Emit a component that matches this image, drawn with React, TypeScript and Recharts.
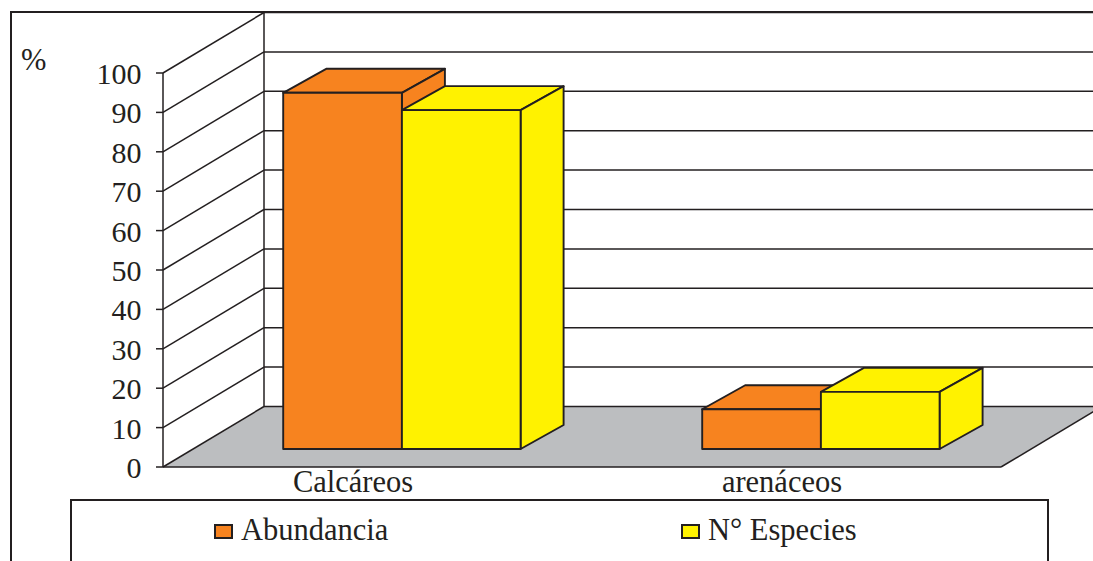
import React from 'react';
import { BarChart, Bar, XAxis, YAxis, Legend, CartesianGrid } from 'recharts';

const categories = ['Calcáreos', 'arenáceos'];
const abundancia = [90.4, 10.1];
const especies = [86, 14.5];
const percentTicks = [0, 10, 20, 30, 40, 50, 60, 70, 80, 90, 100];
const seriesNames = ['Abundancia', 'N° Especies'];
const unitLabel = '%';

const rows = categories.map((name, i) => ({
  name,
  abundancia: abundancia[i],
  especies: especies[i],
}));

const INK = '#231f20';
const ORANGE = '#f7831f';
const YELLOW = '#fff200';
const FLOOR = '#bcbec0';
const SERIF = '"Liberation Serif", serif';
const FONT_SIZE = 30.5;
const TICK_FONT_SIZE = 30;

const WIDTH = 1093;
const HEIGHT = 561;
const MARGIN = { top: 73, right: 92, bottom: 64, left: 133 };

// Wall and floor depth of the pseudo-3D box
const WALL_DX = 101;
const WALL_DY = -60.5;
// Bars stand part of the way back on the floor
const BAR_WIDTH = 118.7;
const BAR_SHIFT_X = 29.2;
const BAR_SHIFT_Y = -18;
const BAR_DX = 43;
const BAR_DY = -24;
const CATEGORY_LABEL_SHIFT = [-19.5, -9.5];

// Each grid line becomes a receding wall line plus a back wall line;
// the baseline also carries the floor, the top line the wall's corner edge.
const WallLine = (props: any) => {
  const { x, y, width, height, y1 } = props;
  const isBase = Math.abs(y1 - (y + height)) < 0.5;
  const isTop = Math.abs(y1 - y) < 0.5;
  const backX = x + WALL_DX;
  const backY = y1 + WALL_DY;
  return (
    <g key={props.key}>
      {isBase && (
        <>
          <polygon
            points={`${x},${y1} ${x + width},${y1} ${x + width + WALL_DX},${backY} ${backX},${backY}`}
            fill={FLOOR}
          />
          <line
            x1={x + width}
            y1={y1}
            x2={x + width + WALL_DX}
            y2={backY}
            stroke={INK}
            strokeWidth={1.5}
          />
        </>
      )}
      <line x1={x} y1={y1} x2={backX} y2={backY} stroke={INK} strokeWidth={1.5} />
      <line x1={backX} y1={backY} x2={WIDTH + 10} y2={backY} stroke={INK} strokeWidth={1.5} />
      {isTop && (
        <line
          x1={backX}
          y1={backY}
          x2={backX}
          y2={backY + height}
          stroke={INK}
          strokeWidth={1.5}
        />
      )}
    </g>
  );
};

const PercentTick = (props: any) => {
  const { x, y, payload } = props;
  const value = payload.value;
  return (
    <g>
      {value === 100 && (
        <text x={21} y={y - 3} fontFamily={SERIF} fontSize={FONT_SIZE} fill={INK}>
          {unitLabel}
        </text>
      )}
      <text
        x={x - 12.5}
        y={y + 11}
        textAnchor="end"
        fontFamily={SERIF}
        fontSize={TICK_FONT_SIZE}
        fill={INK}
      >
        {value}
      </text>
    </g>
  );
};

const CategoryTick = (props: any) => {
  const { x, y, payload, index } = props;
  return (
    <text
      x={x + CATEGORY_LABEL_SHIFT[index]}
      y={y + 17}
      textAnchor="middle"
      fontFamily={SERIF}
      fontSize={FONT_SIZE}
      fill={INK}
    >
      {payload.value}
    </text>
  );
};

// Front, top and side faces of one bar
const BoxBar = (props: any) => {
  const { x, y, width, height, fill } = props;
  const left = x + BAR_SHIFT_X;
  const right = left + width;
  const top = y + BAR_SHIFT_Y;
  const bottom = top + height;
  const edge = { stroke: INK, strokeWidth: 1.9, strokeLinejoin: 'round' as const };
  return (
    <g>
      <polygon
        points={`${left},${top} ${left + BAR_DX},${top + BAR_DY} ${right + BAR_DX},${top + BAR_DY} ${right},${top}`}
        fill={fill}
        {...edge}
      />
      <polygon
        points={`${right},${top} ${right + BAR_DX},${top + BAR_DY} ${right + BAR_DX},${bottom + BAR_DY} ${right},${bottom}`}
        fill={fill}
        {...edge}
      />
      <rect x={left} y={top} width={width} height={height} fill={fill} {...edge} />
    </g>
  );
};

const swatchColours = [ORANGE, YELLOW];
const legendSlots = [143, 610];

const LegendBox = () => (
  <div
    style={{
      position: 'relative',
      width: 975,
      height: 90,
      border: `2px solid ${INK}`,
      background: '#fff',
      fontFamily: SERIF,
      fontSize: FONT_SIZE,
      color: INK,
    }}
  >
    {seriesNames.map((name, i) => (
      <div key={name}>
        <span
          style={{
            position: 'absolute',
            left: legendSlots[i] - 1,
            top: 23,
            width: 15,
            height: 11,
            background: swatchColours[i],
            border: `2px solid ${INK}`,
          }}
        />
        <span
          style={{
            position: 'absolute',
            left: legendSlots[i] + 26,
            top: 13,
            lineHeight: '32px',
            whiteSpace: 'nowrap',
          }}
        >
          {name}
        </span>
      </div>
    ))}
  </div>
);

export default function App() {
  return (
    <div
      style={{
        position: 'absolute',
        left: 0,
        top: 0,
        width: WIDTH,
        height: HEIGHT,
        overflow: 'hidden',
        background: '#fff',
      }}
    >
      <div
        style={{
          position: 'absolute',
          left: 10,
          top: 11,
          width: WIDTH,
          height: HEIGHT,
          borderLeft: `2.5px solid ${INK}`,
          borderTop: `2.5px solid ${INK}`,
        }}
      />
      <div style={{ position: 'absolute', left: 0, top: 0 }}>
        <BarChart
          width={WIDTH}
          height={HEIGHT}
          data={rows}
          margin={MARGIN}
          barSize={BAR_WIDTH}
          barGap={0}
        >
          <CartesianGrid vertical={false} horizontal={WallLine} syncWithTicks />
          <XAxis
            dataKey="name"
            height={30}
            tickLine={false}
            axisLine={{ stroke: INK, strokeWidth: 1.5 }}
            tick={CategoryTick}
            interval={0}
          />
          <YAxis
            type="number"
            width={30}
            domain={[0, 100]}
            ticks={percentTicks}
            interval={0}
            tickSize={7}
            tickLine={{ stroke: INK, strokeWidth: 1.5 }}
            axisLine={{ stroke: INK, strokeWidth: 1.5 }}
            tick={PercentTick}
          />
          <Legend
            layout="horizontal"
            verticalAlign="middle"
            align="center"
            content={LegendBox}
            wrapperStyle={{ left: 70, top: 499, width: 979, bottom: 'auto' }}
          />
          <Bar
            dataKey="abundancia"
            name={seriesNames[0]}
            fill={ORANGE}
            shape={BoxBar}
            isAnimationActive={false}
          />
          <Bar
            dataKey="especies"
            name={seriesNames[1]}
            fill={YELLOW}
            shape={BoxBar}
            isAnimationActive={false}
          />
        </BarChart>
      </div>
    </div>
  );
}
